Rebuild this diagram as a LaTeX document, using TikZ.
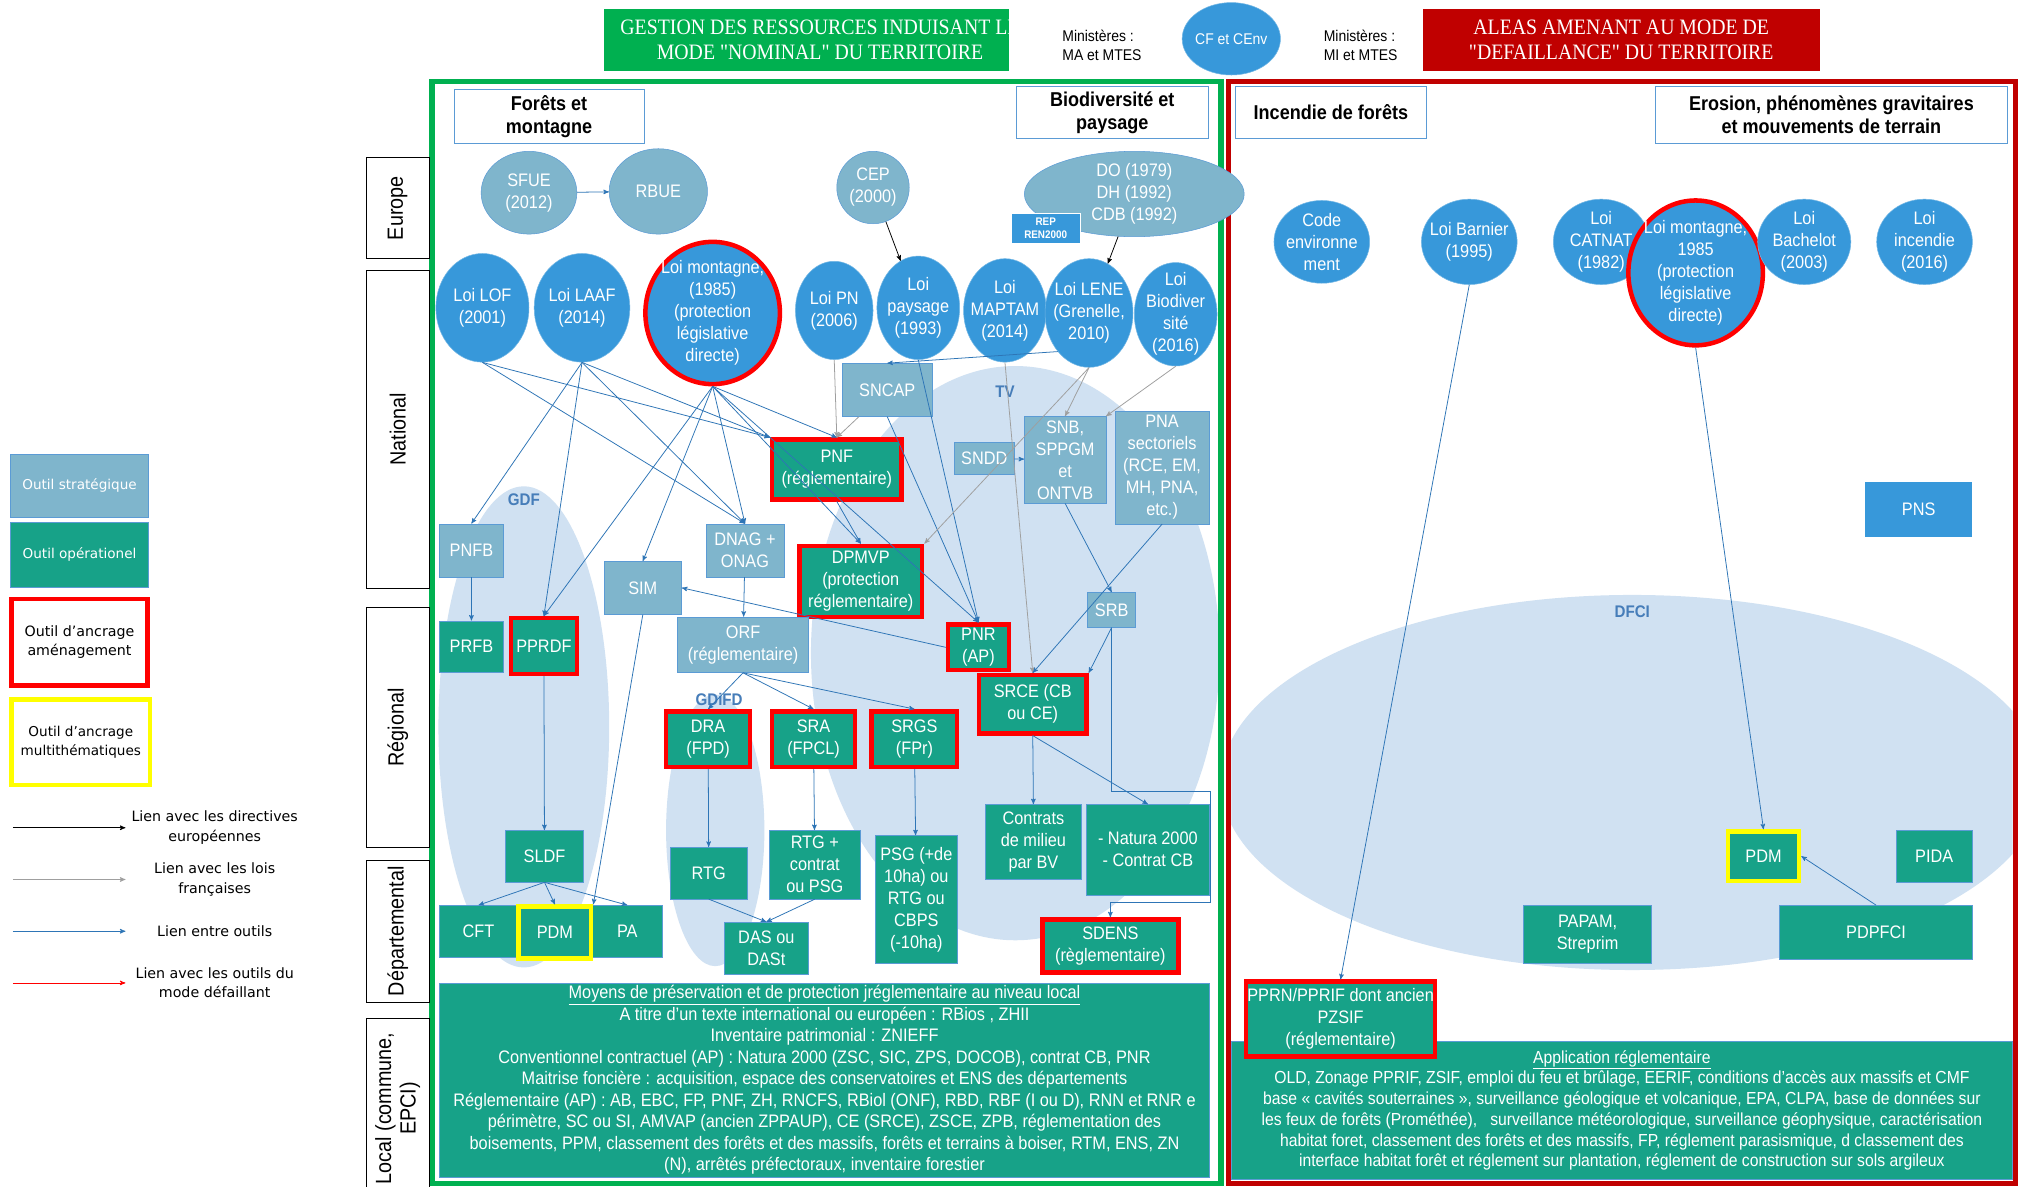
\documentclass[tikz,border=0pt]{standalone}
\usepackage{fontspec}
\setmainfont{Liberation Sans}[FakeStretch=0.9]
\newfontfamily\titlefont{Liberation Serif}[FakeStretch=0.9]
\newfontfamily\legendfont{DejaVu Sans}
\usetikzlibrary{shapes.geometric}
\usetikzlibrary{arrows}
\definecolor{stratblue}{RGB}{127,181,204}
\definecolor{operteal}{RGB}{23,162,136}
\definecolor{loiblue}{RGB}{55,152,218}
\definecolor{edgeblue}{RGB}{91,155,213}
\definecolor{linkblue}{RGB}{46,117,182}
\definecolor{zoneblue}{RGB}{208,225,242}
\definecolor{zonetext}{RGB}{70,125,185}
\definecolor{panelgreen}{RGB}{0,176,80}
\definecolor{panelred}{RGB}{192,0,0}
\definecolor{anchorred}{RGB}{255,0,0}
\definecolor{multiyellow}{RGB}{255,255,0}
\tikzset{x=1pt, y=-1pt,
    every node/.style={font=\fontsize{14}{17}\selectfont, inner sep=0.5pt},
    sz/.style 2 args={minimum width=#1pt, minimum height=#2pt},
    strat/.style={
        draw=edgeblue,
        fill=stratblue,
        text=white,
        align=center},
    oper/.style={
        draw=edgeblue,
        fill=operteal,
        text=white,
        align=center},
    loi/.style={
        ellipse,
        draw=loiblue!70!white,
        fill=loiblue,
        text=white,
        align=center,
        inner sep=-6pt},
    stratloi/.style={loi, fill=stratblue, draw=edgeblue},
    amenag/.style={draw=anchorred, line width=3.5pt},
    multi/.style={draw=multiyellow, line width=3.5pt},
    theme/.style={
        draw=edgeblue,
        fill=white,
        align=center,
        font=\bfseries\fontsize{15.5}{18}\selectfont},
    level/.style={
        draw=black,
        fill=white,
        semithick,
        rotate=90,
        align=center,
        font=\fontsize{17}{19}\selectfont},
    zone/.style={text=zonetext, font=\bfseries\fontsize{13}{15}\selectfont},
    titletext/.style={text=white, align=center, font=\titlefont\fontsize{17}{19}\selectfont},
    ministere/.style={align=left, font=\fontsize{12}{15}\selectfont},
    legtext/.style={align=center, font=\legendfont\fontsize{11}{15}\selectfont},
    lawlink/.style={gray!75},
    eulink/.style={black},
    faillink/.style={anchorred},
    every edge/.style={
        draw,
        ->,>=stealth',
        linkblue,
        semithick}}

\begin{document}
\begin{tikzpicture}
    \useasboundingbox (0,0) rectangle (1568,917);
    \fill[white] (0,0) rectangle (1568,917);

    % zones
    \begin{scope}
        \clip (336,65) rectangle (942,913);
        \fill[zoneblue] (405,562) ellipse [x radius=66, y radius=186];
        \fill[zoneblue] (785,505) ellipse [x radius=158, y radius=222];
        \fill[zoneblue] (553,642) ellipse [x radius=38, y radius=105];
    \end{scope}
    \begin{scope}
        \clip (952,65) rectangle (1556,913);
        \fill[zoneblue] (1262,605) ellipse [x radius=318, y radius=145];
    \end{scope}
    \node[zone] (gdf) at (405,386) {GDF};
    \node[zone] (tv) at (777,303) {TV};
    \node[zone] (gdifd) at (556,541) {GDiFD};
    \node[zone] (dfci) at (1262,473) {DFCI};

    % panels
    \draw[panelgreen, line width=4pt] (334,63) rectangle (944,915);
    \draw[panelred, line width=4pt] (950,63) rectangle (1558,915);

    % headers
    \node[fill=panelgreen, sz={313}{48}] (nominal) at (623.5,31) {};
    \begin{scope}
        \clip (467,7) rectangle (780,55);
        \node[titletext] (nominaltxt) at (634,31) {GESTION DES RESSOURCES INDUISANT LE\\MODE "NOMINAL" DU TERRITOIRE};
    \end{scope}
    \node[ministere] (minA) at (852,35) {Ministères :\\MA et MTES};
    \node[loi, sz={76}{56}, font=\fontsize{12}{14}\selectfont] (cfcenv) at (952,30) {CF et CEnv};
    \node[ministere] (minB) at (1052,35) {Ministères :\\MI et MTES};
    \node[fill=panelred, sz={307}{48}, titletext] (defail) at (1253.5,31) {ALEAS AMENANT AU MODE DE\\"DEFAILLANCE" DU TERRITOIRE};

    % levels
    \node[level, sz={78}{49}] (europe) at (307.5,161) {Europe};
    \node[level, sz={246}{49}] (national) at (307.5,332) {National};
    \node[level, sz={185}{49}] (regional) at (307.5,562.5) {Régional};
    \node[level, sz={110}{49}] (depart) at (307.5,720) {Départemental};
    \node[level, sz={140}{49}] (local) at (307.5,857) {Local (commune,\\EPCI)};

    % legend
    \node[strat, sz={107}{49}, font=\legendfont\fontsize{10.5}{12}\selectfont] (legstrat) at (61.5,375.5) {Outil stratégique};
    \node[oper, sz={107}{50}, font=\legendfont\fontsize{10.5}{12}\selectfont] (legoper) at (61.5,429) {Outil opérationel};
    \node[amenag, fill=white, sz={105}{67}, legtext] (legamenag) at (61.5,496.5) {Outil d’ancrage\\aménagement};
    \node[multi, fill=white, sz={107}{66}, legtext, font=\legendfont\fontsize{10.5}{15}\selectfont] (legmulti) at (62.5,574) {Outil d’ancrage\\multithématiques};
    \coordinate (lienA) at (10,640);
    \coordinate (lienAe) at (97,640);
    \coordinate (lienB) at (10,680);
    \coordinate (lienBe) at (97,680);
    \coordinate (lienC) at (10,720);
    \coordinate (lienCe) at (97,720);
    \coordinate (lienD) at (10,760);
    \coordinate (lienDe) at (97,760);
    \draw (lienA) edge[eulink] (lienAe);
    \draw (lienB) edge[lawlink] (lienBe);
    \draw (lienC) edge[] (lienCe);
    \draw (lienD) edge[faillink] (lienDe);
    \node[legtext] (lienAtxt) at (166,640) {Lien avec les directives\\européennes};
    \node[legtext] (lienBtxt) at (166,680) {Lien avec les lois\\françaises};
    \node[legtext] (lienCtxt) at (166,720) {Lien entre outils};
    \node[legtext] (lienDtxt) at (166,760) {Lien avec les outils du\\mode défaillant};

    % themes
    \node[theme, sz={147}{42}] (foret) at (424.5,90) {Forêts et\\montagne};
    \node[theme, sz={148}{40}] (biodiv) at (860,87) {Biodiversité et\\paysage};
    \node[theme, sz={148}{40}] (incendie) at (1029,87) {Incendie de forêts};
    \node[theme, sz={272}{44}] (erosion) at (1416,89) {Erosion, phénomènes gravitaires\\et mouvements de terrain};

    % nominal: europe
    \node[stratloi, sz={74}{64}] (sfue) at (409,149) {SFUE\\(2012)};
    \node[stratloi, sz={76}{66}] (rbue) at (509,148) {RBUE};
    \node[stratloi, sz={56}{56}] (cep) at (675,145) {CEP\\(2000)};
    \node[stratloi, sz={170}{66}] (dodh) at (877,150) {DO (1979)\\DH (1992)\\CDB (1992)};
    \node[fill=loiblue, draw=white, text=white, align=center, sz={53}{23}, font=\bfseries\fontsize{8.5}{10}\selectfont] (rep) at (808.5,176.5) {REP\\REN2000};

    % nominal: lois
    \node[loi, sz={72}{84}] (lof) at (373,238) {Loi LOF\\(2001)};
    \node[loi, sz={74}{84}] (laaf) at (450,238) {Loi LAAF\\(2014)};
    \node[loi, amenag, sz={104}{110}] (montL) at (551,242) {Loi montagne,\\(1985)\\(protection\\législative\\directe)};
    \node[loi, sz={60}{76}] (pn) at (645,240) {Loi PN\\(2006)};
    \node[loi, sz={64}{80}] (pays) at (710,238) {Loi\\paysage\\(1993)};
    \node[loi, sz={64}{80}] (maptam) at (777,240) {Loi\\MAPTAM\\(2014)};
    \node[loi, sz={68}{84}] (lene) at (842,242) {Loi LENE\\(Grenelle,\\2010)};
    \node[loi, sz={64}{80}] (biod) at (909,243) {Loi\\Biodiver\\sité\\(2016)};

    % nominal: outils
    \node[strat, sz={70}{41}] (sncap) at (686,301.5) {SNCAP};
    \node[strat, sz={46}{25}] (sndd) at (761,354.5) {SNDD};
    \node[strat, sz={63}{67}] (snb) at (823.5,355.5) {SNB,\\SPPGM\\et\\ONTVB};
    \node[strat, sz={73}{87}] (pna) at (898.5,361.5) {PNA\\sectoriels\\(RCE, EM,\\MH, PNA,\\etc.)};
    \node[oper, amenag, sz={100}{46}] (pnf) at (647,363) {PNF\\(réglementaire)};
    \node[strat, sz={49}{41}] (pnfb) at (364.5,425.5) {PNFB};
    \node[strat, sz={60}{41}] (dnag) at (576,425.5) {DNAG +\\ONAG};
    \node[oper, amenag, sz={95}{55}] (dpmvp) at (665.5,449.5) {DPMVP\\(protection\\réglementaire)};
    \node[strat, sz={60}{41}] (sim) at (497,454.5) {SIM};
    \node[strat, sz={37}{27}] (srb) at (859.5,471.5) {SRB};
    \node[oper, sz={49}{40}] (prfb) at (364.5,500) {PRFB};
    \node[oper, amenag, sz={51}{43}] (pprdf) at (420.5,499.5) {PPRDF};
    \node[strat, sz={101}{43}] (orf) at (574.5,498.5) {ORF\\(réglementaire)};
    \node[oper, amenag, sz={47}{35}] (pnr) at (756.5,500.5) {PNR\\(AP)};
    \node[oper, amenag, sz={83}{45}] (srce) at (798.5,544.5) {SRCE (CB\\ou CE)};
    \node[oper, amenag, sz={65}{43}] (dra) at (547.5,571.5) {DRA\\(FPD)};
    \node[oper, amenag, sz={64}{43}] (sra) at (629,571.5) {SRA\\(FPCL)};
    \node[oper, amenag, sz={66}{43}] (srgs) at (707,571.5) {SRGS\\(FPr)};
    \node[oper, sz={74}{58}] (cdm) at (799,651) {Contrats\\de milieu\\par BV};
    \node[oper, sz={95}{70}] (natura) at (887.5,657) {- Natura 2000\\- Contrat CB};
    \node[oper, sz={60}{40}] (sldf) at (421,662) {SLDF};
    \node[oper, sz={60}{40}] (rtg) at (548,675) {RTG};
    \node[oper, sz={70}{53}] (rtgc) at (630,668.5) {RTG +\\contrat\\ou PSG};
    \node[oper, sz={63}{99}] (psg) at (708.5,695.5) {PSG (+de\\10ha) ou\\RTG ou\\CBPS\\(-10ha)};
    \node[oper, sz={60}{40}] (cft) at (370,720) {CFT};
    \node[oper, sz={54}{40}] (pa) at (485,720) {PA};
    \node[oper, multi, sz={56}{40}] (pdmL) at (429,721) {PDM};
    \node[oper, sz={65}{40}] (das) at (592.5,733) {DAS ou\\DASt};
    \node[oper, amenag, sz={105}{41}] (sdens) at (858.5,731.5) {SDENS\\(règlementaire)};
    \node[oper, sz={595}{150}, font=\fontsize{14}{16.6}\selectfont] (moyens) at (637.5,835) {\underline{Moyens de préservation et de protection jréglementaire au niveau local}\\
        A titre d’un texte international ou européen : RBios , ZHII\\
        Inventaire patrimonial : ZNIEFF\\
        Conventionnel contractuel (AP) : Natura 2000 (ZSC, SIC, ZPS, DOCOB), contrat CB, PNR\\
        Maitrise foncière : acquisition, espace des conservatoires et ENS des départements\\
        Réglementaire (AP) : AB, EBC, FP, PNF, ZH, RNCFS, RBiol (ONF), RBD, RBF (I ou D), RNN et RNR e\\
        périmètre, SC ou SI, AMVAP (ancien ZPPAUP), CE (SRCE), ZSCE, ZPB, réglementation des\\
        boisements, PPM, classement des forêts et des massifs, forêts et terrains à boiser, RTM, ENS, ZN\\
        (N), arrêtés préfectoraux, inventaire forestier};

    % defaillant
    \node[loi, sz={74}{64}] (code) at (1022,187) {Code\\environne\\ment};
    \node[loi, sz={74}{66}] (barnier) at (1136,187) {Loi Barnier\\(1995)};
    \node[loi, sz={74}{66}] (catnat) at (1238,187) {Loi\\CATNAT\\(1982)};
    \node[loi, amenag, sz={104}{112}] (montR) at (1311,211) {Loi montagne,\\1985\\(protection\\législative\\directe)};
    \node[loi, sz={72}{66}] (bachelot) at (1395,187) {Loi\\Bachelot\\(2003)};
    \node[loi, sz={74}{66}] (incend) at (1488,187) {Loi\\incendie\\(2016)};
    \node[fill=loiblue, text=white, sz={83}{42}] (pns) at (1483.5,394) {PNS};
    \node[oper, multi, sz={55}{38}] (pdmR) at (1363.5,662) {PDM};
    \node[oper, sz={59}{40}] (pida) at (1495.5,662) {PIDA};
    \node[oper, sz={99}{45}] (papam) at (1227.5,722.5) {PAPAM,\\Streprim};
    \node[oper, sz={149}{42}] (pdpfci) at (1450.5,721) {PDPFCI};
    \node[oper, sz={604}{107}, font=\fontsize{13.5}{16}\selectfont] (appli) at (1254,858.5) {\underline{Application réglementaire}\\
        OLD, Zonage PPRIF, ZSIF, emploi du feu et brûlage, EERIF, conditions d’accès aux massifs et CMF\\
        base « cavités souterraines », surveillance géologique et volcanique, EPA, CLPA,  base de données sur\\
        les feux de forêts (Prométhée),~~ surveillance météorologique, surveillance géophysique, caractérisation\\
        habitat foret, classement des forêts et des massifs, FP, réglement parasismique, d classement des\\
        interface habitat forêt et réglement sur plantation, réglement de construction sur sols argileux};
    \node[oper, amenag, sz={146}{58}] (pprn) at (1036.5,788) {PPRN/PPRIF dont ancien\\PZSIF\\(réglementaire)};

    % liens
    \draw (sfue) edge[] (rbue);
    \draw (cep) edge[eulink] (pays);
    \draw (dodh) edge[eulink] (lene);

    \draw (lof.south) edge[] (pnf.north west);
    \draw (lof.south) edge[] (dnag.north);
    \draw (laaf.south) edge[] (pnfb.north);
    \draw (laaf.south) edge[] (pprdf.north);
    \draw (laaf.south) edge[] (pnf.north west);
    \draw (laaf.south) edge[] (dnag.north);
    \draw (montL.south) edge[] (pprdf.north);
    \draw (montL.south) edge[] (sim.north);
    \draw (montL.south) edge[] (dnag.north);
    \draw (montL.south) edge[] (pnf.north);
    \draw (montL.south) edge[] (dpmvp.north);
    \draw (montL.south) edge[] (pnr.north);
    \draw (pn.south) edge[lawlink] (pnf.north);
    \draw (sncap) edge[lawlink] (pnf.north);
    \draw (lene.south west) edge[] (sncap.north);
    \draw (sncap.south) edge[] (pnr.north);
    \draw (pays.south) edge[] (pnr.north);
    \draw (pnf.south) edge[] (dpmvp.north);
    \draw (lene.south) edge[lawlink] (dpmvp.north east);
    \draw (lene.south) edge[lawlink] (snb.north);
    \draw (biod.south) edge[lawlink] (snb.north east);
    \draw (maptam.south) edge[lawlink] (srce.north);
    \draw (sndd) edge[] (snb);
    \draw (snb.south) edge[] (srb.north);
    \draw (pna.south) edge[] (srce.north);
    \draw (srb.south) edge[] (srce.north east);
    \draw[->, >=stealth', linkblue, semithick] (srb.south) |- (936,612) -- (936,698) -| (sdens.north);

    \draw (pnr.west) edge[] (sim.east);
    \draw (pnfb) edge[] (prfb);
    \draw (pprdf) edge[] (sldf);
    \draw (sldf.south) edge[] (cft.north);
    \draw (sldf.south) edge[] (pdmL.north);
    \draw (sldf.south) edge[] (pa.north);
    \draw (sim.south) edge[] (pdmL.north east);
    \draw (dnag) edge[] (orf);
    \draw (orf.south) edge[] (dra.north);
    \draw (orf.south) edge[] (sra.north);
    \draw (orf.south) edge[] (srgs.north);
    \draw (dra) edge[] (rtg);
    \draw (sra) edge[] (rtgc);
    \draw (srgs) edge[] (psg);
    \draw (rtg.south) edge[] (das.north);
    \draw (rtgc.south) edge[] (das.north);
    \draw (srce.south) edge[] (cdm.north);
    \draw (srce.south) edge[] (natura.north);

    \draw (barnier.south) edge[] (pprn.north);
    \draw (montR.south) edge[] (pdmR.north);
    \draw (pdpfci.north) edge[] (pdmR.east);
\end{tikzpicture}
\end{document}
